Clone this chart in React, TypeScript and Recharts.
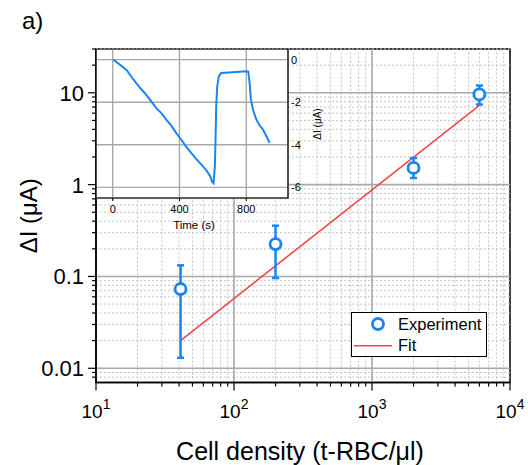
import React from "react"
import {
  ComposedChart,
  LineChart,
  Scatter,
  Line,
  XAxis,
  YAxis,
  ErrorBar,
  ReferenceLine,
  ReferenceArea,
  CartesianGrid,
  Legend,
  Label,
} from "recharts"

const FONT = "'Liberation Sans', Arial, sans-serif"
const BLUE = "#1a84f0"
const RED = "#f04848"

// main plot: current change vs cell density
const density = [41, 200, 2000, 6000]
const deltaI = [0.073, 0.225, 1.52, 9.6]
const errLow = [0.06, 0.129, 0.34, 2.15]
const errHigh = [0.059, 0.132, 0.43, 2.4]

// fitted line end points
const fitX = [41, 6000]
const fitY = [0.02, 7.3]

const xMajor = [10, 100, 1000, 10000]
const xExp = ["1", "2", "3", "4"]
const yMajor = [0.01, 0.1, 1, 10]
const yLabels = ["0.01", "0.1", "1", "10"]
const steps = [2, 3, 4, 5, 6, 7, 8, 9]

// inset: current trace over time
const time = [
  4, 30, 60, 84, 110, 140, 170, 200, 230, 260, 290, 320, 350, 380, 410, 440,
  470, 500, 530, 560, 584, 596, 604, 612, 616, 620, 626, 636, 650, 720, 800,
  812, 820, 828, 840, 860, 880, 900, 920, 940,
]
const current = [
  0, -0.16, -0.34, -0.5, -0.78, -1.09, -1.38, -1.64, -1.95, -2.27, -2.5,
  -2.81, -3.09, -3.44, -3.75, -4.09, -4.38, -4.66, -4.92, -5.19, -5.47, -5.75,
  -5.81, -5.0, -3.75, -2.19, -1.25, -0.78, -0.63, -0.59, -0.55, -0.56, -1.09,
  -1.88, -2.34, -2.81, -3.09, -3.28, -3.59, -3.91,
]
const insetXTicks = [0, 400, 800]
const insetYTicks = [0, -2, -4, -6]

const r3 = (v: number) => parseFloat(v.toPrecision(3))
const xMinor = xMajor.slice(0, 3).flatMap((m) => steps.map((s) => r3(m * s)))
const yMinor = [0.008, 0.009, ...yMajor.slice(0, 3).flatMap((m) => steps.map((s) => r3(m * s))), 20, 30]

const expData = density.map((d, i) => ({ x: d, y: deltaI[i], err: [errLow[i], errHigh[i]] }))
const fitData = fitX.map((d, i) => ({ x: d, y: fitY[i] }))
const traceData = time.map((t, i) => ({ t, i: current[i] }))

const YTick = (props: any) => {
  const { x, y, payload } = props
  const i = yMajor.indexOf(payload.value)
  const major = i >= 0
  return (
    <g>
      <line x1={x - (major ? 8 : 4)} x2={x} y1={y} y2={y} stroke="#000" strokeWidth={1.2} />
      {major && (
        <text x={x - 12} y={y} dy="0.36em" textAnchor="end" fontSize={22} fontFamily={FONT} fill="#000">
          {yLabels[i]}
        </text>
      )}
    </g>
  )
}

const XTick = (props: any) => {
  const { x, y, payload } = props
  const i = xMajor.indexOf(payload.value)
  const major = i >= 0
  return (
    <g>
      <line x1={x} x2={x} y1={y} y2={y + (major ? 8 : 4)} stroke="#000" strokeWidth={1.2} />
      {major && (
        <text x={x} y={y + 35} textAnchor="middle" fontSize={19} fontFamily={FONT} fill="#000">
          10
          <tspan dy={-9} fontSize={14}>
            {xExp[i]}
          </tspan>
        </text>
      )}
    </g>
  )
}

const Ring = (p: any) => (
  <circle cx={p.cx} cy={p.cy} r={5.5} fill="#fff" stroke={BLUE} strokeWidth={2.8} />
)

const LegendBox = () => (
  <svg width={136} height={45} style={{ display: "block" }}>
    <rect x={0.5} y={0.5} width={135} height={44} fill="#fff" stroke="#000" strokeWidth={1} />
    <circle cx={27} cy={12} r={5.5} fill="#fff" stroke={BLUE} strokeWidth={2.8} />
    <text x={47} y={17.5} fontSize={16.5} fontFamily={FONT} fill="#000">Experiment</text>
    <line x1={3} x2={41} y1={33.7} y2={33.7} stroke={RED} strokeWidth={1.5} />
    <text x={47} y={39} fontSize={16.5} fontFamily={FONT} fill="#000">Fit</text>
  </svg>
)

export default function App() {
  return (
    <div
      style={{
        position: "fixed",
        left: 0,
        top: 0,
        width: 528,
        height: 465,
        background: "#fff",
        fontFamily: FONT,
      }}
    >
      <ComposedChart
        width={528}
        height={465}
        margin={{ top: 49, right: 18, left: 0, bottom: 22.5 }}
      >
        <XAxis
          dataKey="x"
          type="number"
          scale="log"
          domain={[10, 10000]}
          allowDataOverflow
          ticks={[...xMajor, ...xMinor]}
          interval={0}
          height={60}
          tickSize={0}
          tickMargin={0}
          tickLine={false}
          axisLine={{ stroke: "#000", strokeWidth: 1.5 }}
          tick={<XTick />}
        >
          <Label
            content={() => (
              <text x={300} y={460} textAnchor="middle" fontSize={25} fontFamily={FONT} fill="#000">
                Cell density (t-RBC/μl)
              </text>
            )}
          />
        </XAxis>
        <YAxis
          dataKey="y"
          type="number"
          scale="log"
          domain={[0.007, 30]}
          allowDataOverflow
          ticks={[...yMajor, ...yMinor]}
          interval={0}
          width={96}
          tickSize={0}
          tickMargin={0}
          tickLine={false}
          axisLine={{ stroke: "#000", strokeWidth: 1.5 }}
          tick={<YTick />}
        >
          <Label
            content={() => (
              <text
                x={37}
                y={215.75}
                transform="rotate(-90 37 215.75)"
                textAnchor="middle"
                fontSize={24}
                fontFamily={FONT}
                fill="#000"
              >
                ΔI (μA)
              </text>
            )}
          />
        </YAxis>
        {yMinor.map((v) => (
          <ReferenceLine key={"ym" + v} y={v} stroke="#c4c4c4" strokeDasharray="2 2" strokeWidth={1} />
        ))}
        {xMinor.map((v) => (
          <ReferenceLine key={"xm" + v} x={v} stroke="#c4c4c4" strokeDasharray="2 2" strokeWidth={1} />
        ))}
        {yMajor.map((v) => (
          <ReferenceLine key={"yM" + v} y={v} stroke="#a8a8a8" strokeWidth={1.6} />
        ))}
        {xMajor.slice(1, 3).map((v) => (
          <ReferenceLine key={"xM" + v} x={v} stroke="#a8a8a8" strokeWidth={1.6} />
        ))}
        <ReferenceArea x1={10} x2={10000} y1={0.007} y2={30} fill="none" stroke="#000" strokeWidth={1.5} />
        <Line
          data={fitData}
          dataKey="y"
          type="linear"
          stroke={RED}
          strokeWidth={1.6}
          dot={false}
          isAnimationActive={false}
        />
        <Scatter data={expData} dataKey="y" shape={Ring} isAnimationActive={false}>
          <ErrorBar dataKey="err" direction="y" width={3.5} stroke={BLUE} strokeWidth={2.5} />
        </Scatter>
        <Legend
          layout="horizontal"
          verticalAlign="middle"
          align="center"
          content={() => <LegendBox />}
          wrapperStyle={{ left: 351, top: 312, width: 136, height: 45 }}
        />
      </ComposedChart>

      <div style={{ position: "absolute", left: 96, top: 49 }}>
        <LineChart
          width={250}
          height={190}
          data={traceData}
          margin={{ top: 0, right: 18, left: 0, bottom: 0 }}
        >
          <CartesianGrid stroke="#a8a8a8" strokeWidth={1.4} fill="#fff" fillOpacity={1} />
          <XAxis
            dataKey="t"
            type="number"
            domain={[-100, 1050]}
            allowDataOverflow
            ticks={insetXTicks}
            interval={0}
            height={41}
            tickSize={3}
            tickMargin={4}
            axisLine={false}
            tickLine={{ stroke: "#000" }}
            tick={{ fontSize: 11, fill: "#000", fontFamily: FONT }}
          >
            <Label
              content={() => (
                <text x={98} y={180} textAnchor="middle" fontSize={11.5} fontFamily={FONT} fill="#000">
                  Time (s)
                </text>
              )}
            />
          </XAxis>
          <YAxis
            orientation="right"
            type="number"
            domain={[-6.5, 0.5]}
            allowDataOverflow
            ticks={insetYTicks}
            interval={0}
            width={40}
            tickSize={0}
            tickMargin={3}
            axisLine={false}
            tickLine={false}
            tick={{ fontSize: 11, fill: "#000", fontFamily: FONT }}
          >
            <Label
              content={() => (
                <text
                  x={225}
                  y={75}
                  transform="rotate(-90 225 75)"
                  textAnchor="middle"
                  fontSize={10}
                  fontFamily={FONT}
                  fill="#000"
                >
                  ΔI (μA)
                </text>
              )}
            />
          </YAxis>
          <ReferenceArea x1={-100} x2={1050} y1={-6.5} y2={0.5} fill="none" stroke="#000" strokeWidth={1.2} />
          <Line
            dataKey="i"
            type="linear"
            stroke={BLUE}
            strokeWidth={2}
            dot={false}
            isAnimationActive={false}
          />
        </LineChart>
      </div>

      <div
        style={{
          position: "absolute",
          left: 22,
          top: 9,
          fontSize: 24,
          lineHeight: "24px",
          fontFamily: FONT,
          color: "#000",
        }}
      >
        a)
      </div>
    </div>
  )
}
